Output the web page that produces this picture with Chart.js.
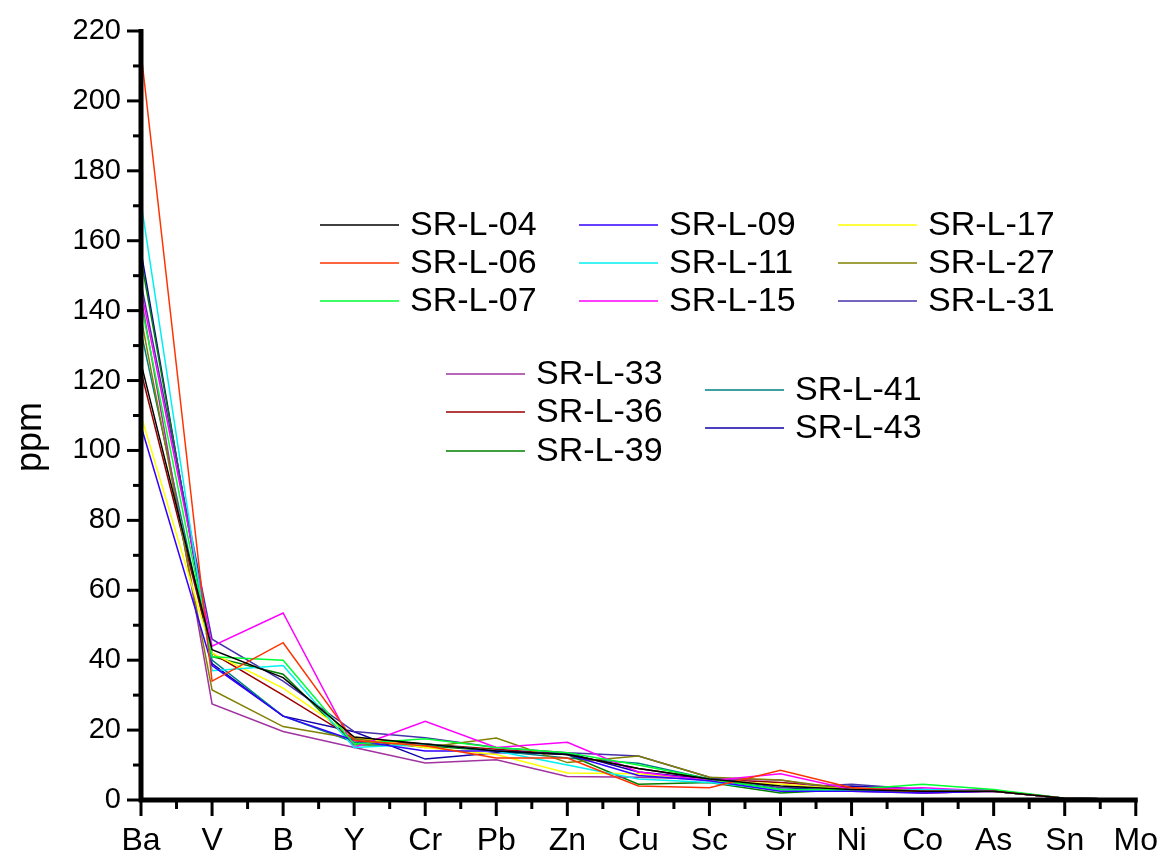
<!DOCTYPE html>
<html>
<head>
<meta charset="utf-8">
<script src="https://cdn.jsdelivr.net/npm/chart.js@4.4.1/dist/chart.umd.min.js"></script>
<style>
  html, body { margin: 0; padding: 0; background: #fff; }
  #wrap { width: 1172px; height: 856px; }
</style>
</head>
<body>
<div id="wrap"><canvas id="chart" width="1172" height="856"></canvas></div>
<script>
// Elements on the x axis
const elements = ['Ba', 'V', 'B', 'Y', 'Cr', 'Pb', 'Zn', 'Cu', 'Sc', 'Sr', 'Ni', 'Co', 'As', 'Sn', 'Mo'];

// y axis range / ticks
const yMin = 0;
const yMax = 220;
const yStep = 20;

// ppm values per sample (same order as elements)
const srL04 = [125, 43, 35, 18, 16, 14, 13, 9, 6, 4, 3, 2.5, 2.5, 0.5, 0.2];
const srL06 = [214, 34, 45, 17, 15.5, 12, 12, 4, 3.5, 8.5, 3.5, 2.5, 2.5, 0.5, 0.2];
const srL07 = [142, 41, 40, 16, 17.5, 15, 13.5, 10, 6, 3, 3, 4.5, 3, 0.5, 0.2];
const srL09 = [107, 38.5, 24, 17, 14, 14, 13, 7, 5.5, 2.5, 2.5, 2, 2.5, 0.5, 0.2];
const srL11 = [171, 37, 38.5, 15, 16, 14, 10, 6, 5, 3, 2.5, 3, 2.5, 0.5, 0.2];
const srL15 = [146, 44, 53.5, 15, 22.5, 15, 16.5, 8, 5.5, 7.5, 3, 3.5, 2.5, 0.5, 0.2];
const srL17 = [110, 42, 32, 18, 15, 13, 7.7, 7.5, 5.5, 4.5, 3, 2.5, 2.5, 0.5, 0.2];
const srL27 = [138, 31.5, 21, 17.5, 15, 17.7, 10.7, 12.6, 6.5, 5.7, 3, 2.5, 2.5, 0.5, 0.2];
const srL31 = [148, 46, 34, 19.6, 17.8, 15, 13.5, 12.6, 6.5, 3.5, 4.5, 3, 2.7, 0.5, 0.2];
const srL33 = [144, 27.5, 19.6, 15, 10.6, 11.5, 6.7, 6.5, 6, 5.7, 2.5, 2, 2.5, 0.5, 0.2];
const srL36 = [122.6, 42, 30, 17.5, 16, 14.5, 13, 9, 6, 5, 3.5, 2, 2.5, 0.5, 0.2];
const srL39 = [154.7, 41, 36, 15.8, 15.5, 14, 13, 4.5, 5, 2, 3, 3, 2.5, 0.5, 0.2];
const srL41 = [134, 40, 24, 16.5, 16, 14, 12, 10.5, 6, 3, 2.5, 2.5, 2.5, 0.5, 0.2];
const srL43 = [157, 39, 24, 19.5, 11.7, 13.5, 13.5, 8, 6, 3, 4, 3, 2.7, 0.5, 0.2];

const samples = [
    { label: 'SR-L-04', data: srL04 },
    { label: 'SR-L-06', data: srL06 },
    { label: 'SR-L-07', data: srL07 },
    { label: 'SR-L-09', data: srL09 },
    { label: 'SR-L-11', data: srL11 },
    { label: 'SR-L-15', data: srL15 },
    { label: 'SR-L-17', data: srL17 },
    { label: 'SR-L-27', data: srL27 },
    { label: 'SR-L-31', data: srL31 },
    { label: 'SR-L-33', data: srL33 },
    { label: 'SR-L-36', data: srL36 },
    { label: 'SR-L-39', data: srL39 },
    { label: 'SR-L-41', data: srL41 },
    { label: 'SR-L-43', data: srL43 }
];

const lineColors = {
    'SR-L-04': '#000000',
    'SR-L-06': '#ff3300',
    'SR-L-07': '#00ff33',
    'SR-L-09': '#3300ff',
    'SR-L-11': '#00f0f0',
    'SR-L-15': '#ff00ff',
    'SR-L-17': '#ffff00',
    'SR-L-27': '#808000',
    'SR-L-31': '#4433aa',
    'SR-L-33': '#a033a0',
    'SR-L-36': '#990000',
    'SR-L-39': '#008000',
    'SR-L-41': '#008080',
    'SR-L-43': '#1100aa'
};

const FONT = '"Liberation Sans", Arial, sans-serif';

// Origin-style legend: [dataset index, line start x, y]
const legendSpots = [
    [0, 320, 225], [1, 320, 263], [2, 320, 301],
    [3, 579, 225], [4, 579, 263], [5, 579, 301],
    [6, 838, 225], [7, 838, 263], [8, 838, 301],
    [9, 446, 374], [10, 446, 412], [11, 446, 451],
    [12, 705, 390], [13, 705, 428]
];

const originLegend = {
    id: 'originLegend',
    afterDraw(chart) {
        const ctx = chart.ctx;
        ctx.save();
        ctx.font = '34px ' + FONT;
        ctx.textBaseline = 'middle';
        ctx.fillStyle = '#000';
        legendSpots.forEach(([i, x, y]) => {
            const ds = chart.data.datasets[i];
            ctx.strokeStyle = ds.borderColor;
            ctx.lineWidth = 1.5;
            ctx.beginPath();
            ctx.moveTo(x, y);
            ctx.lineTo(x + 79, y);
            ctx.stroke();
            ctx.fillText(ds.label, x + 90, y + 1);
        });

        // y axis title
        ctx.font = '36px ' + FONT;
        ctx.translate(31, 437);
        ctx.rotate(-Math.PI / 2);
        ctx.textAlign = 'center';
        ctx.fillText('ppm', 0, 0);
        ctx.restore();
    }
};

// Thick axes with major and minor ticks, drawn through the chart's scales
const originAxes = {
    id: 'originAxes',
    afterDraw(chart) {
        const { ctx, chartArea: a, scales: { x, y } } = chart;
        ctx.save();
        ctx.strokeStyle = '#000';
        ctx.lineWidth = 5;
        ctx.lineCap = 'butt';
        ctx.beginPath();
        ctx.moveTo(a.left, y.getPixelForValue(yMax) - 2);
        ctx.lineTo(a.left, a.bottom);
        ctx.lineTo(x.getPixelForValue(elements.length - 1) + 2, a.bottom);
        ctx.stroke();

        ctx.lineWidth = 3;
        for (let v = yMin; v <= yMax; v += yStep / 2) {
            const py = y.getPixelForValue(v);
            const len = (v % yStep === 0) ? 14 : 8;
            ctx.beginPath();
            ctx.moveTo(a.left - len, py);
            ctx.lineTo(a.left, py);
            ctx.stroke();
        }
        for (let i = 0; i < elements.length; i++) {
            let px = x.getPixelForValue(i);
            ctx.beginPath();
            ctx.moveTo(px, a.bottom);
            ctx.lineTo(px, a.bottom + 16);
            ctx.stroke();
            if (i < elements.length - 1) {
                px = x.getPixelForValue(i + 0.5);
                ctx.beginPath();
                ctx.moveTo(px, a.bottom);
                ctx.lineTo(px, a.bottom + 9);
                ctx.stroke();
            }
        }
        ctx.restore();
    }
};

const ctx = document.getElementById('chart');

new Chart(ctx, {
    type: 'line',
    data: {
        labels: elements,
        datasets: samples.map(s => ({
            label: s.label,
            data: s.data,
            borderColor: lineColors[s.label],
            backgroundColor: lineColors[s.label],
            borderWidth: 1.5,
            pointRadius: 0,
            tension: 0,
            fill: false
        }))
    },
    options: {
        responsive: false,
        animation: false,
        devicePixelRatio: 1,
        layout: { padding: { top: 31, right: 30, left: 0, bottom: 0 } },
        plugins: {
            legend: { display: false },
            tooltip: { enabled: false },
            title: { display: false }
        },
        scales: {
            x: {
                type: 'category',
                offset: false,
                grid: { display: false },
                border: { display: false },
                ticks: {
                    color: '#000',
                    font: { family: FONT, size: 32 },
                    padding: 14,
                    maxRotation: 0,
                    autoSkip: false
                },
                afterFit(scale) { scale.height = 56; }
            },
            y: {
                min: yMin,
                max: yMax,
                grid: { display: false },
                border: { display: false },
                ticks: {
                    stepSize: yStep,
                    color: '#000',
                    font: { family: FONT, size: 29 },
                    padding: 12
                },
                afterFit(scale) { scale.width = 141; }
            }
        }
    },
    plugins: [originAxes, originLegend]
});
</script>
</body>
</html>
